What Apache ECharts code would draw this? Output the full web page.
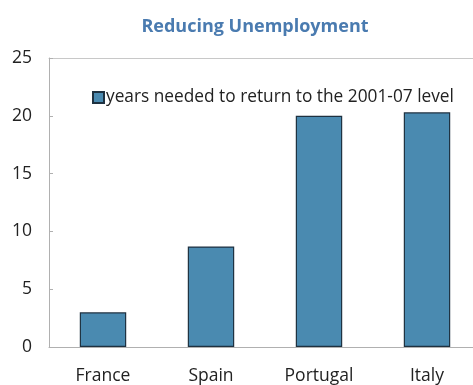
<!DOCTYPE html>
<html><head><meta charset="utf-8">
<script src="https://cdn.jsdelivr.net/npm/echarts@6/dist/echarts.min.js"></script>
<style>html,body{margin:0;padding:0;background:#fff}#c{width:473px;height:385px}</style>
</head><body><div id="c"></div>
<script>
const categories = ["France", "Spain", "Portugal", "Italy"];
const yearsNeeded = [3.0, 8.7, 20.0, 20.3];
const seriesName = "years needed to return to the 2001-07 level";
const titleText = "Reducing Unemployment";

const chart = echarts.init(document.getElementById('c'), null, {renderer: 'canvas'});
chart.setOption({
  animation: false,
  backgroundColor: '#ffffff',
  title: {
    text: titleText, left: 250, top: 13, textAlign: 'center',
    textStyle: {color: '#4A7BB0', fontSize: 18, fontWeight: 'bold', fontFamily: 'Open Sans'}
  },
  legend: {
    left: 87, top: 84, itemWidth: 11, itemHeight: 11, itemGap: 2,
    textStyle: {color: '#222', fontSize: 17.3, fontFamily: 'Open Sans', padding: [0,0,0,-3]},
    data: [{name: seriesName, icon: 'rect'}]
  },
  grid: {left: 49, width: 432, top: 58, bottom: 38, outerBoundsMode: 'none', containLabel: false, show: false},
  xAxis: [{
    type: 'category', data: categories,
    axisLine: {lineStyle: {color: '#b0b0b0'}},
    axisTick: {inside: true, length: 7, lineStyle: {color: '#b0b0b0'}},
    axisLabel: {color: '#222', fontSize: 17.5, fontFamily: 'Open Sans', margin: 20}
  }, {
    type: 'category', data: categories, position: 'top',
    axisLine: {show: true, lineStyle: {color: '#c8c8c8'}},
    axisTick: {show: false}, axisLabel: {show: false}
  }],
  yAxis: {
    type: 'value', min: 0, max: 25, interval: 5,
    splitLine: {show: false},
    axisLine: {show: true, lineStyle: {color: '#b0b0b0'}},
    axisTick: {show: true, inside: true, length: 4, lineStyle: {color: '#b0b0b0'}},
    axisLabel: {color: '#222', fontSize: 17.5, fontFamily: 'Open Sans', margin: 17}
  },
  series: [{
    name: seriesName, type: 'bar', data: yearsNeeded, barWidth: '43%', xAxisIndex: 0,
    itemStyle: {color: '#4A8AB0', borderColor: '#1E3140', borderWidth: 1.2}
  }]
});
</script></body></html>
